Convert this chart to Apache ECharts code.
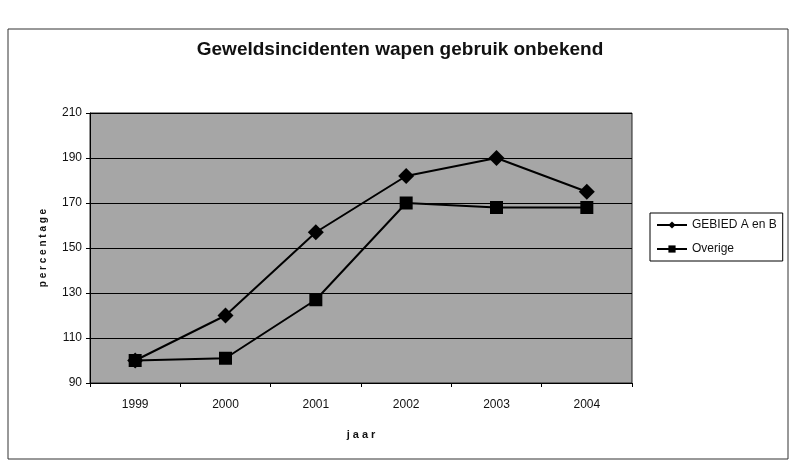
<!DOCTYPE html>
<html>
<head>
<meta charset="utf-8">
<script src="https://cdn.jsdelivr.net/npm/echarts@6/dist/echarts.min.js"></script>
<style>
  html, body { margin: 0; padding: 0; background: #fff; }
  #main { width: 794px; height: 463px; }
</style>
</head>
<body>
<div id="main"></div>
<script>
// waarden
var jaren = ['1999', '2000', '2001', '2002', '2003', '2004'];
var gebiedAB = [100, 120, 157, 182, 190, 175];
var overige = [100, 101, 127, 170, 168, 168];

var myChart = echarts.init(document.getElementById('main'));

var option = {
  backgroundColor: '#fff',
  title: {
    text: 'Geweldsincidenten wapen gebruik onbekend',
    left: 395,
    top: 35,
    textAlign: 'center',
    textStyle: { fontFamily: 'Liberation Sans', fontSize: 19, fontWeight: 'bold', color: '#111' }
  },
  legend: {
    orient: 'vertical',
    left: 650,
    top: 213,
    itemWidth: 30,
    itemHeight: 9,
    itemGap: 12,
    padding: [6, 6, 6, 6],
    borderColor: '#000',
    borderWidth: 1,
    textStyle: { fontFamily: 'Liberation Sans', fontSize: 12, color: '#111' },
    data: ['GEBIED A en B', 'Overige']
  },
  grid: {
    left: 90,
    right: 162,
    top: 113,
    bottom: 80,
    show: true,
    backgroundColor: '#a6a6a6',
    borderColor: '#222',
    borderWidth: 1
  },
  xAxis: {
    type: 'category',
    data: jaren,
    boundaryGap: true,
    name: 'j a a r',
    nameLocation: 'middle',
    nameGap: 46,
    nameTextStyle: { fontFamily: 'Liberation Sans', fontSize: 11, fontWeight: 'bold', color: '#111' },
    axisLine: { lineStyle: { color: '#000', width: 1 } },
    axisTick: { show: true, length: 4, lineStyle: { color: '#000' } },
    axisLabel: { margin: 16, fontFamily: 'Liberation Sans', fontSize: 12, color: '#111' },
    splitLine: { show: false }
  },
  yAxis: {
    type: 'value',
    min: 90,
    max: 210,
    interval: 20,
    name: 'p e r c e n t a g e',
    nameLocation: 'middle',
    nameGap: 42,
    nameTextStyle: { fontFamily: 'Liberation Sans', fontSize: 10, fontWeight: 'bold', color: '#111' },
    axisLine: { show: true, lineStyle: { color: '#000', width: 1 } },
    axisTick: { show: true, length: 4, lineStyle: { color: '#000' } },
    axisLabel: { margin: 8, fontFamily: 'Liberation Sans', fontSize: 12, color: '#111' },
    splitLine: { show: true, lineStyle: { color: '#000', width: 1 } }
  },
  series: [
    {
      name: 'GEBIED A en B',
      type: 'line',
      data: gebiedAB,
      symbol: 'diamond',
      symbolSize: 16,
      itemStyle: { color: '#000' },
      lineStyle: { color: '#000', width: 2 }
    },
    {
      name: 'Overige',
      type: 'line',
      data: overige,
      symbol: 'rect',
      symbolSize: 13,
      itemStyle: { color: '#000' },
      lineStyle: { color: '#000', width: 2 }
    }
  ],
  graphic: [
    {
      type: 'rect',
      shape: { x: 8, y: 29, width: 780, height: 430 },
      style: { fill: 'none', stroke: '#333', lineWidth: 1 },
      silent: true
    }
  ]
};

myChart.setOption(option);
</script>
</body>
</html>
